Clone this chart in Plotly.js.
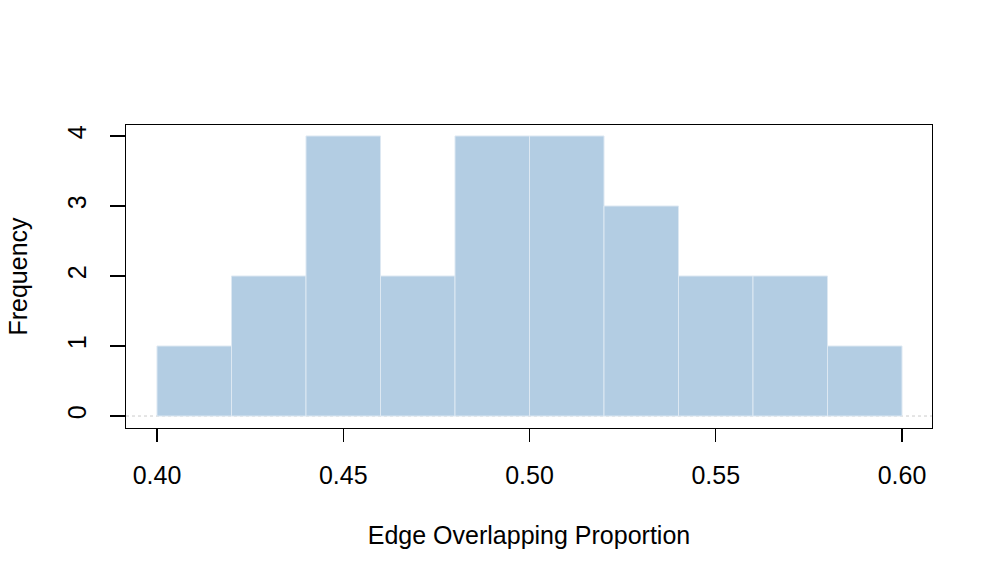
<!DOCTYPE html>
<html>
<head>
<meta charset="utf-8">
<script src="https://cdn.plot.ly/plotly-3.0.1.min.js"></script>
<style>
  html, body { margin: 0; padding: 0; background: #fff; }
  #chart { width: 997px; height: 586px; }
</style>
</head>
<body>
<div id="chart"></div>
<script>
// histogram bins (left edges) and counts
var binStarts = [0.40, 0.42, 0.44, 0.46, 0.48, 0.50, 0.52, 0.54, 0.56, 0.58];
var binWidth = 0.02;
var counts = [1, 2, 4, 2, 4, 4, 3, 2, 2, 1];

var xTicks = [0.40, 0.45, 0.50, 0.55, 0.60];
var xTickText = ['0.40', '0.45', '0.50', '0.55', '0.60'];
var yTicks = [0, 1, 2, 3, 4];
var baseline = 0;

var mids = binStarts.map(function(b) { return b + binWidth / 2; });

var bars = {
  type: 'bar',
  x: mids,
  y: counts,
  width: binStarts.map(function() { return binWidth; }),
  marker: {
    color: '#b3cde3',
    line: {color: '#dde8f2', width: 1}
  },
  hoverinfo: 'x+y'
};

var font = {family: 'Liberation Sans, Arial, sans-serif', size: 25, color: '#000'};

var layout = {
  width: 997,
  height: 586,
  margin: {l: 126, r: 65, t: 125, b: 158, pad: 0},
  paper_bgcolor: '#fff',
  plot_bgcolor: '#fff',
  font: font,
  showlegend: false,
  bargap: 0,
  xaxis: {
    range: [0.39168, 0.60805],
    tickvals: xTicks,
    ticktext: xTickText,
    tickfont: font,
    ticks: 'outside',
    ticklen: 13,
    tickwidth: 1.3,
    tickcolor: '#000',
    showline: true,
    linecolor: '#000',
    linewidth: 1.3,
    mirror: true,
    showgrid: false,
    zeroline: false,
    ticklabelstandoff: 12,
    title: {text: 'Edge Overlapping Proportion', font: font, standoff: 38}
  },
  yaxis: {
    range: [-0.171, 4.157],
    tickvals: yTicks,
    tickfont: font,
    ticks: 'outside',
    ticklen: 15,
    tickwidth: 1.3,
    tickcolor: '#000',
    tickangle: -90,
    showline: true,
    linecolor: '#000',
    linewidth: 1.3,
    mirror: true,
    showgrid: false,
    zeroline: false,
    ticklabelstandoff: 14,
    title: {text: 'Frequency', font: font, standoff: 28}
  },
  shapes: [{
    type: 'line',
    xref: 'paper', yref: 'y',
    x0: 0, x1: 1, y0: baseline, y1: baseline,
    line: {color: '#cccccc', width: 1, dash: 'dot'},
    layer: 'below'
  }]
};

Plotly.newPlot('chart', [bars], layout, {displayModeBar: false, staticPlot: true});
</script>
</body>
</html>
